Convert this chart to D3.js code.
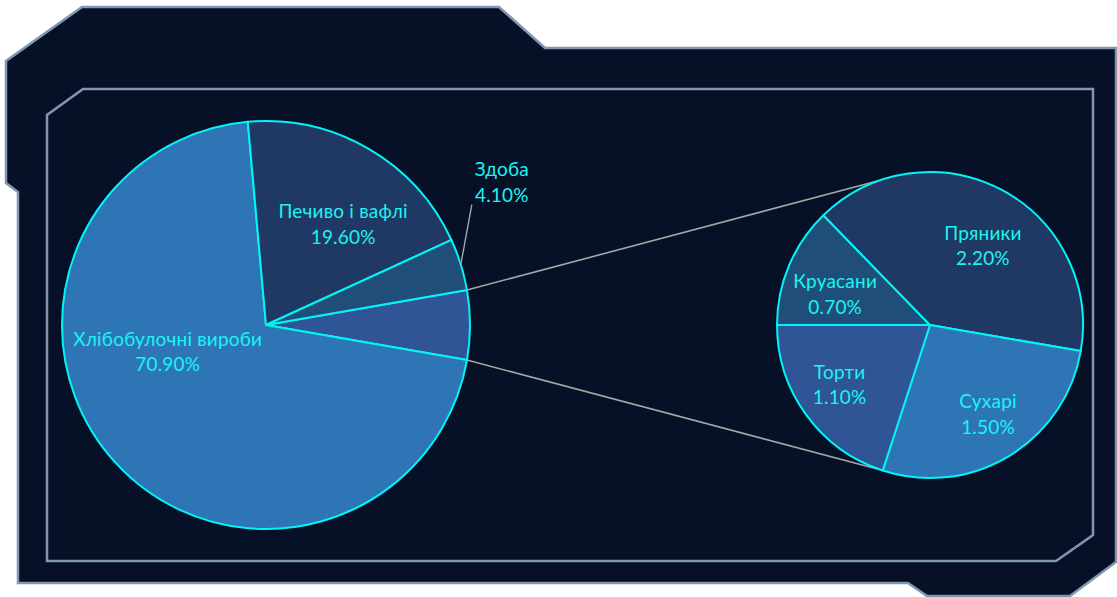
<!DOCTYPE html>
<html>
<head>
<meta charset="utf-8">
<script src="https://cdn.jsdelivr.net/npm/d3@7/dist/d3.min.js"></script>
<style>
  html, body { margin: 0; padding: 0; background: #ffffff; }
  svg { display: block; }
</style>
</head>
<body>
<svg id="chart" width="1117" height="597"></svg>
<script>
// Bakery product structure: main pie with a breakdown of the small items
const mainCategories = ["Хлібобулочні вироби", "Печиво і вафлі", "Здоба"];
const mainValues = [70.9, 19.6, 4.1];
const detailCategories = ["Круасани", "Пряники", "Сухарі", "Торти"];
const detailValues = [0.7, 2.2, 1.5, 1.1];

const sliceColors = {
  "Хлібобулочні вироби": "#2e75b6",
  "Печиво і вафлі": "#203864",
  "Здоба": "#1f4e79",
  "Інше": "#2f5597",
  "Круасани": "#1f4e79",
  "Пряники": "#203864",
  "Сухарі": "#2e75b6",
  "Торти": "#2f5597"
};

const svg = d3.select("#chart");

// ---- decorative frame ----
const frameFill = "#061027";
const frameStroke = "#8096b1";
const outerFrame = [[82,7],[499,7],[545,48],[1116,48],[1116,562],[1070,596],[927,596],[908,583],[18,583],[18,192],[6,183],[6,61]];
const innerFrame = [[83,89],[1093,89],[1093,535],[1056,561],[47,561],[47,115]];
const line = d3.line().curve(d3.curveLinearClosed);
svg.append("path").attr("d", line(outerFrame))
  .attr("fill", frameFill).attr("stroke", frameStroke).attr("stroke-width", 2.5);
svg.append("path").attr("d", line(innerFrame))
  .attr("fill", "none").attr("stroke", frameStroke).attr("stroke-width", 2.5);

// ---- pies ----
const main = { cx: 266, cy: 325, r: 204 };
const detail = { cx: 930, cy: 325, r: 153 };
const edge = "#00f6f6";
const textColor = "#1af4f2";
const fmt = v => v.toFixed(2) + "%";

const detailTotal = d3.sum(detailValues);
const mainData = [{ name: "Інше", value: detailTotal }]
  .concat(mainCategories.map((c, i) => ({ name: c, value: mainValues[i] })));
const mainTotal = d3.sum(mainData, d => d.value);

// the combined slice is centred at 3 o'clock, facing the breakdown pie
const start = Math.PI / 2 - Math.PI * detailTotal / mainTotal;
const mainArcs = d3.pie().value(d => d.value).sort(null)
  .startAngle(start).endAngle(start + 2 * Math.PI)(mainData);

const detailData = detailCategories.map((c, i) => ({ name: c, value: detailValues[i] }));
const detailArcs = d3.pie().value(d => d.value).sort(null)
  .startAngle(-Math.PI / 2).endAngle(1.5 * Math.PI)(detailData);

const polar = (p, a, r) => [p.cx + r * Math.sin(a), p.cy - r * Math.cos(a)];

// connector lines between the combined slice and the breakdown pie
const other = mainArcs[0];
const linkAngle = 19 * Math.PI / 180;
const links = [
  [polar(main, other.startAngle, main.r), polar(detail, -linkAngle, detail.r)],
  [polar(main, other.endAngle, main.r), polar(detail, Math.PI + linkAngle, detail.r)]
];
svg.append("g").selectAll("line").data(links).join("line")
  .attr("x1", d => d[0][0]).attr("y1", d => d[0][1])
  .attr("x2", d => d[1][0]).attr("y2", d => d[1][1])
  .attr("stroke", "#a6a6a6").attr("stroke-width", 1.6);

function drawPie(p, arcs) {
  const arc = d3.arc().innerRadius(0).outerRadius(p.r);
  const g = svg.append("g").attr("transform", `translate(${p.cx},${p.cy})`);
  g.selectAll("path").data(arcs).join("path")
    .attr("d", arc)
    .attr("fill", d => sliceColors[d.data.name])
    .attr("stroke", edge).attr("stroke-width", 2)
    .attr("stroke-linejoin", "round");
  return g;
}
const gMain = drawPie(main, mainArcs);
const gDetail = drawPie(detail, detailArcs);

// label placement: angle (deg, clockwise from 12 o'clock) and radius as share of pie radius
const labelPlace = {
  "Хлібобулочні вироби": { a: 254.5, k: 0.50 },
  "Печиво і вафлі": { a: 37.6, k: 0.62 },
  "Здоба": { a: 58.9, k: 1.35 },
  "Пряники": { a: 33.9, k: 0.62 },
  "Сухарі": { a: 147.2, k: 0.70 },
  "Торти": { a: 236.3, k: 0.71 },
  "Круасани": { a: 287.5, k: 0.65 }
};

function drawLabels(g, p, arcs) {
  arcs.filter(d => labelPlace[d.data.name]).forEach(d => {
    const pl = labelPlace[d.data.name];
    const a = pl.a * Math.PI / 180;
    const x = p.r * pl.k * Math.sin(a), y = -p.r * pl.k * Math.cos(a);
    if (pl.k > 1) {
      // leader from the slice's outer edge to the label
      const mid = (d.startAngle + d.endAngle) / 2;
      g.append("line")
        .attr("x1", p.r * Math.sin(mid)).attr("y1", -p.r * Math.cos(mid))
        .attr("x2", x - 30).attr("y2", y + 22)
        .attr("stroke", "#a6a6a6").attr("stroke-width", 1.4);
    }
    const t = g.append("text")
      .attr("x", x).attr("y", y)
      .attr("text-anchor", "middle")
      .attr("fill", textColor)
      .attr("font-family", "Lato, 'Open Sans', sans-serif")
      .attr("font-size", 19)
      .attr("letter-spacing", 0.2);
    t.append("tspan").attr("x", x).attr("dy", "-0.35em").text(d.data.name);
    t.append("tspan").attr("x", x).attr("dy", "1.35em").text(fmt(d.data.value));
  });
}
drawLabels(gMain, main, mainArcs);
drawLabels(gDetail, detail, detailArcs);
</script>
</body>
</html>
